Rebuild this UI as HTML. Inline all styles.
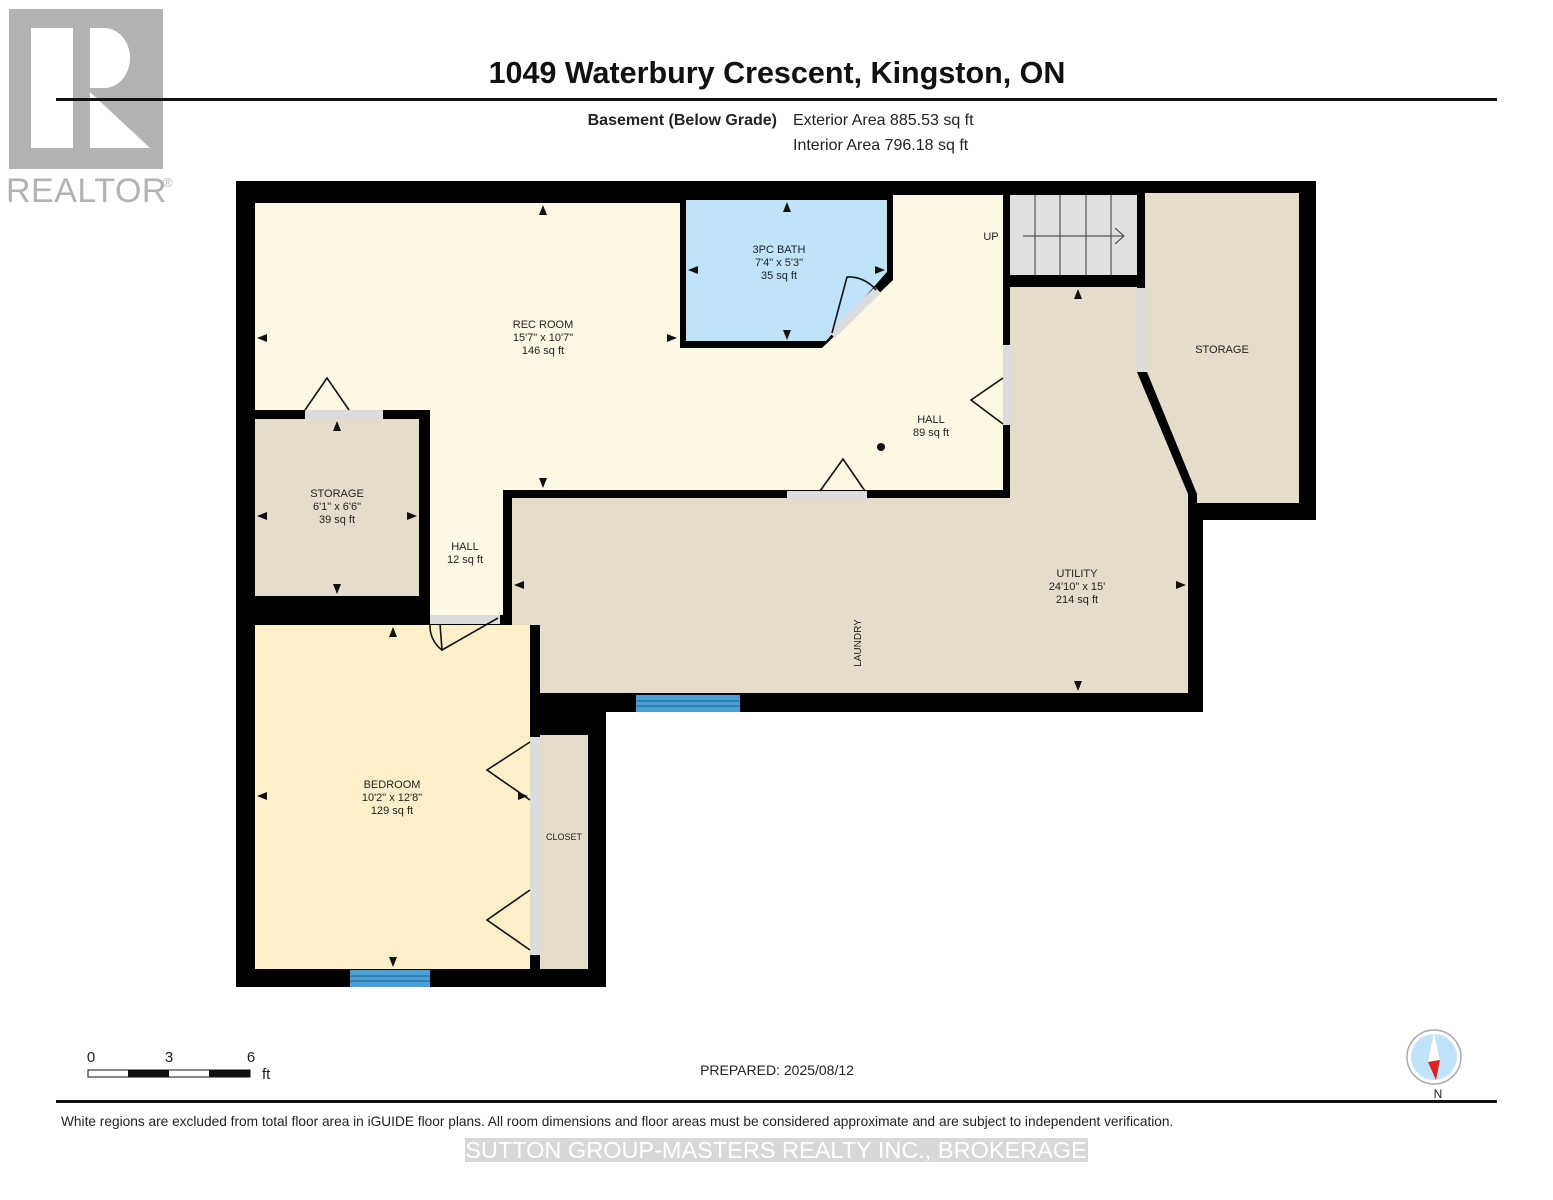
<!DOCTYPE html>
<html><head><meta charset="utf-8"><style>
html,body{margin:0;padding:0;background:#fff;}
svg{display:block;font-family:"Liberation Sans",Arial,sans-serif;}
</style></head><body>
<svg width="1553" height="1200" viewBox="0 0 1553 1200" xmlns="http://www.w3.org/2000/svg">
<!-- Realtor logo -->
<rect x="9" y="9" width="154" height="160" fill="#b3b3b3"/>
<rect x="31" y="28" width="42" height="120" fill="#fff"/>
<path d="M90 28 H104 A26 30 0 0 1 104 88 H90 Z" fill="#fff"/>
<polygon points="90,92 90,148 150,148" fill="#fff"/>
<text x="6" y="202" font-size="34" fill="#b3b3b3" letter-spacing="0.5">REALTOR</text>
<text x="163" y="187" font-size="13" fill="#b3b3b3">®</text>
<!-- title -->
<text x="777" y="83" font-size="30.5" font-weight="bold" text-anchor="middle" fill="#111">1049 Waterbury Crescent, Kingston, ON</text>
<rect x="56" y="98" width="1441" height="3" fill="#111"/>
<text x="777" y="125" font-size="16" font-weight="bold" text-anchor="end" fill="#222">Basement (Below Grade)</text>
<text x="793" y="125" font-size="16" fill="#222">Exterior Area 885.53 sq ft</text>
<text x="793" y="150" font-size="16" fill="#222">Interior Area 796.18 sq ft</text>

<!-- walls footprint -->
<polygon points="236,181 1316,181 1316,520 1203,520 1203,712 606,712 606,987 236,987" fill="#000"/>
<polygon points="255,203 680,203 680,348 822,348 893,280 893,195 1003,195 1003,490 503,490 503,615 430,615 430,410 255,410" fill="#fdf7e4"/>
<polygon points="686,200 887,200 887,272 826,341 686,341" fill="#bfe3fb"/>
<rect x="1010" y="195" width="127" height="80" fill="#e0e0e0"/>
<g stroke="#555" stroke-width="1.2">
<line x1="1035" y1="195" x2="1035" y2="275"/><line x1="1060" y1="195" x2="1060" y2="275"/><line x1="1086" y1="195" x2="1086" y2="275"/><line x1="1111" y1="195" x2="1111" y2="275"/>
<line x1="1023" y1="236" x2="1124" y2="236"/><polyline points="1115,228 1124,236 1115,244" fill="none"/>
</g>
<rect x="255" y="419" width="164" height="177" fill="#e6dccb"/>
<rect x="255" y="625" width="275" height="344" fill="#fdf0c9"/>
<rect x="540" y="735" width="48" height="234" fill="#e6dccb"/>
<rect x="530" y="737" width="10" height="218" fill="#dcdcdc"/>
<polygon points="512,498 1010,498 1010,287 1137,287 1137,372 1188,494 1188,693 540,693 540,625 512,625" fill="#e6dccb"/>
<polygon points="1145,193 1299,193 1299,503 1197,503 1197,494 1147,372 1145,372" fill="#e6dccb"/>
<g fill="#dcdcdc">
<rect x="1137" y="288" width="8" height="84"/>
<rect x="1003" y="345" width="8" height="80"/>
<rect x="787" y="491" width="80" height="8"/>
<rect x="305" y="410" width="78" height="9"/>
<rect x="430" y="615" width="70" height="9"/>
<polygon points="829,332 875,287 881,293 835,338"/>
</g>
<g fill="#4a9fd6"><rect x="636" y="695" width="104" height="17"/><rect x="350" y="970" width="80" height="17"/></g>
<g stroke="#1a5f8f" stroke-width="1"><line x1="636" y1="701" x2="740" y2="701"/><line x1="636" y1="706" x2="740" y2="706"/><line x1="350" y1="976" x2="430" y2="976"/><line x1="350" y1="981" x2="430" y2="981"/></g>
<g fill="none" stroke="#111" stroke-width="1.6">
<polyline points="305,410 327,378 349,410"/>
<polyline points="820,491 843,459 865,491"/>
<polyline points="1003,378 971,400 1003,424"/>
<polyline points="530,742 487,770 530,800"/>
<polyline points="530,890 487,920 530,950"/>
<path d="M832 333 L847 277 A35 35 0 0 1 876 290"/>
<path d="M440 624 L442 650 L498 618"/>
<path d="M430 624 A30 30 0 0 0 442 650"/>
</g>
<circle cx="881" cy="447" r="4" fill="#111"/>
<g fill="#111">
<polygon points="543,205 539,215 547,215"/><polygon points="543,488 539,478 547,478"/>
<polygon points="257,338 267,334 267,342"/><polygon points="677,338 667,334 667,342"/>
<polygon points="787,202 783,212 791,212"/><polygon points="787,340 783,330 791,330"/>
<polygon points="688,270 698,266 698,274"/><polygon points="885,270 875,266 875,274"/>
<polygon points="337,421 333,431 341,431"/><polygon points="337,594 333,584 341,584"/>
<polygon points="257,516 267,512 267,520"/><polygon points="417,516 407,512 407,520"/>
<polygon points="1078,289 1074,299 1082,299"/><polygon points="1078,691 1074,681 1082,681"/>
<polygon points="514,585 524,581 524,589"/><polygon points="1186,585 1176,581 1176,589"/>
<polygon points="393,627 389,637 397,637"/><polygon points="393,967 389,957 397,957"/>
<polygon points="257,796 267,792 267,800"/><polygon points="528,796 518,792 518,800"/>
</g>
<g font-size="11" fill="#222" text-anchor="middle">
<text x="543" y="328">REC ROOM</text><text x="543" y="341">15'7" x 10'7"</text><text x="543" y="354">146 sq ft</text>
<text x="779" y="253">3PC BATH</text><text x="779" y="266">7'4" x 5'3"</text><text x="779" y="279">35 sq ft</text>
<text x="931" y="423">HALL</text><text x="931" y="436">89 sq ft</text>
<text x="991" y="240">UP</text>
<text x="1222" y="353">STORAGE</text>
<text x="337" y="497">STORAGE</text><text x="337" y="510">6'1" x 6'6"</text><text x="337" y="523">39 sq ft</text>
<text x="465" y="550">HALL</text><text x="465" y="563">12 sq ft</text>
<text x="1077" y="577">UTILITY</text><text x="1077" y="590">24'10" x 15'</text><text x="1077" y="603">214 sq ft</text>
<text x="392" y="788">BEDROOM</text><text x="392" y="801">10'2" x 12'8"</text><text x="392" y="814">129 sq ft</text>
<text x="564" y="840" font-size="9">CLOSET</text>
<text transform="translate(861,643) rotate(-90)" font-size="10">LAUNDRY</text>
</g>
<g font-size="15" fill="#222">
<text x="91" y="1062" text-anchor="middle">0</text><text x="169" y="1062" text-anchor="middle">3</text><text x="251" y="1062" text-anchor="middle">6</text>
<text x="262" y="1079">ft</text>
</g>
<rect x="88" y="1070" width="162" height="7" fill="#fff" stroke="#111" stroke-width="1"/>
<rect x="128" y="1070" width="41" height="7" fill="#111"/><rect x="209" y="1070" width="41" height="7" fill="#111"/>
<text x="777" y="1075" font-size="14" text-anchor="middle" fill="#222">PREPARED: 2025/08/12</text>
<circle cx="1434" cy="1057" r="27" fill="#fff" stroke="#aaa" stroke-width="1.5"/>
<circle cx="1434" cy="1057" r="23" fill="#bfe3fb"/>
<polygon points="1434,1032 1428,1062 1440,1062" fill="#fff"/>
<polygon points="1440,1060 1428,1062 1436,1080" fill="#e02020"/>
<text x="1438" y="1098" font-size="12" text-anchor="middle" fill="#222">N</text>
<rect x="56" y="1100" width="1441" height="3" fill="#111"/>
<text x="61" y="1126" font-size="13.7" fill="#222">White regions are excluded from total floor area in iGUIDE floor plans. All room dimensions and floor areas must be considered approximate and are subject to independent verification.</text>
<rect x="465" y="1138" width="623" height="24" fill="#d8d8d8"/>
<text x="776" y="1158" font-size="23.5" text-anchor="middle" fill="#fff">SUTTON GROUP-MASTERS REALTY INC., BROKERAGE</text>
</svg>
</body></html>
